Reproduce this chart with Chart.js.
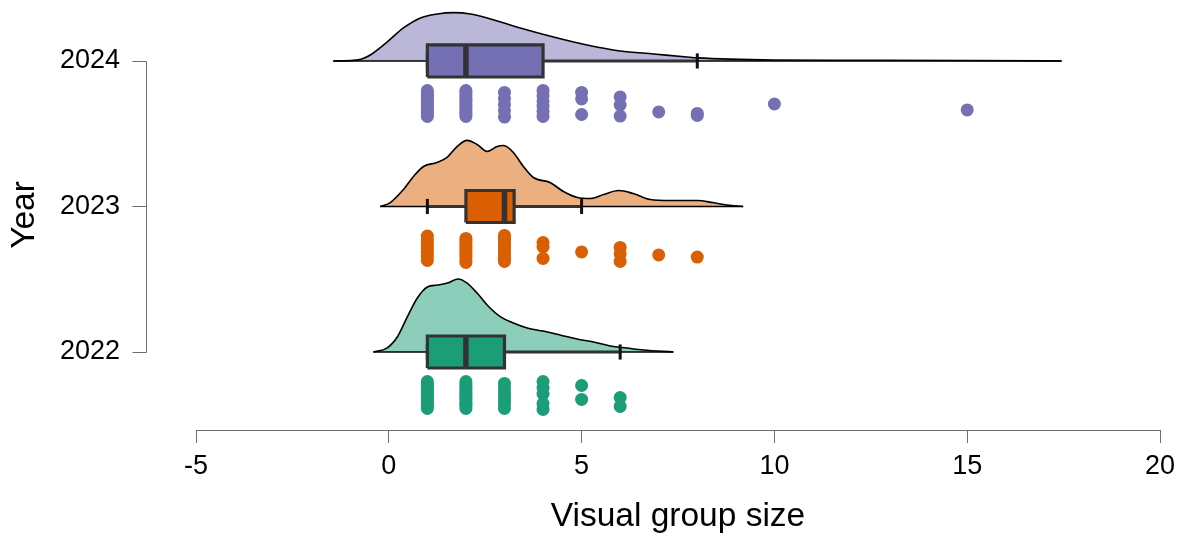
<!DOCTYPE html>
<html>
<head>
<meta charset="utf-8">
<script src="https://cdn.jsdelivr.net/npm/chart.js@4.4.1/dist/chart.umd.min.js"></script>
<style>
  html, body { margin: 0; padding: 0; background: #ffffff; }
  canvas { display: block; }
</style>
</head>
<body>
<canvas id="chart" width="1183" height="537"></canvas>
<script>
// Years on the vertical axis and their colours (bottom to top)
const years = [2022, 2023, 2024];
const palette = ['#1b9e77', '#d95f02', '#7570b3'];
const cloudFill = ['rgba(27,158,119,0.5)', 'rgba(217,95,2,0.5)', 'rgba(117,112,179,0.5)'];
const xTicks = [-5, 0, 5, 10, 15, 20];

// Box-plot summaries per year
const q1 = [1, 2, 1];
const median = [2, 3, 2];
const q3 = [3, 3.25, 4];
const whiskerLow = [1, 1, 1];
const whiskerHigh = [6, 5, 8];

// Density clouds: x positions and height above the year line (axis units)
const densX2022 = [-0.4, -0.05, 0.22, 0.48, 0.74, 1.0, 1.26, 1.52, 1.8, 2.03, 2.29, 2.55, 2.9, 3.23, 3.59, 4.0, 4.44, 4.88, 5.31, 5.74, 6.18, 6.6, 7.38];
const densH2022 = [0, 0.027, 0.103, 0.241, 0.371, 0.447, 0.46, 0.474, 0.502, 0.474, 0.405, 0.323, 0.241, 0.199, 0.165, 0.144, 0.117, 0.089, 0.069, 0.041, 0.027, 0.014, 0];

const densX2023 = [-0.22, 0.04, 0.38, 0.64, 0.9, 1.25, 1.51, 1.77, 2.03, 2.29, 2.55, 2.81, 2.98, 3.23, 3.49, 3.75, 4.18, 4.53, 4.89, 5.23, 5.57, 5.96, 6.34, 6.78, 7.3, 8.0, 8.4, 8.77, 9.19];
const densH2023 = [0, 0.027, 0.117, 0.206, 0.275, 0.302, 0.337, 0.412, 0.454, 0.426, 0.378, 0.412, 0.419, 0.371, 0.275, 0.199, 0.165, 0.103, 0.062, 0.055, 0.082, 0.11, 0.089, 0.048, 0.041, 0.041, 0.027, 0.01, 0];

const densX2024 = [-1.44, -0.92, -0.7, -0.48, -0.04, 0.38, 0.82, 1.26, 1.68, 2.12, 2.55, 3.41, 4.27, 5.14, 6.0, 6.87, 7.73, 8.0, 10, 12, 15, 17.45];
const densH2024 = [0, 0.004, 0.014, 0.041, 0.131, 0.227, 0.296, 0.323, 0.332, 0.323, 0.296, 0.227, 0.165, 0.11, 0.069, 0.048, 0.027, 0.021, 0.007, 0.005, 0.003, 0];

// Observed group sizes and their vertical jitter (in jitter units)
const obs2022 = [1,1,1,1,1,1,1,1,1,1,1,1, 2,2,2,2,2,2,2,2,2,2,2,2,2, 3,3,3,3,3,3,3, 4,4,4,4,4, 5,5, 6,6];
const jit2022 = [1.0, 0.81, 0.62, 0.43, 0.25, 0.06, -0.13, -0.32, -0.51, -0.7, -0.89, -1.08,
                 1.0, 0.83, 0.66, 0.48, 0.31, 0.14, -0.04, -0.21, -0.38, -0.56, -0.73, -0.9, -1.08,
                 0.85, 0.53, 0.2, -0.12, -0.44, -0.76, -1.08,
                 1.0, 0.5, 0.04, -0.7, -1.15,
                 0.69, -0.38,
                 -0.23, -0.92];

const obs2023 = [1,1,1,1,1,1,1, 2,2,2,2,2,2,2,2,2,2, 3,3,3,3,3,3,3,3,3,3, 4,4,4, 5, 6,6,6, 7, 8];
const jit2023 = [1.0, 0.68, 0.36, 0.06, -0.25, -0.55, -0.88,
                 0.81, 0.6, 0.4, 0.2, 0.0, -0.2, -0.42, -0.62, -0.84, -1.04,
                 1.04, 0.82, 0.6, 0.38, 0.16, -0.08, -0.3, -0.52, -0.74, -0.96,
                 0.5, 0.15, -0.73,
                 -0.23,
                 0.12, -0.38, -0.96,
                 -0.46,
                 -0.62];

const obs2024 = [1,1,1,1,1,1,1,1,1,1,1,1,1, 2,2,2,2,2,2,2,2,2,2,2,2, 3,3,3,3,3, 4,4,4,4,4,4, 5,5,5, 6,6,6, 7, 8,8, 10, 15];
const jit2024 = [0.99, 0.82, 0.65, 0.48, 0.32, 0.15, -0.02, -0.18, -0.35, -0.52, -0.68, -0.85, -1.0,
                 0.99, 0.8, 0.62, 0.44, 0.26, 0.08, -0.1, -0.28, -0.46, -0.64, -0.82, -1.0,
                 0.85, 0.38, -0.08, -0.55, -1.05,
                 1.0, 0.6, 0.2, -0.2, -0.6, -1.0,
                 0.85, 0.35, -0.85,
                 0.5, -0.12, -0.97,
                 -0.65,
                 -0.77, -0.92,
                 -0.04,
                 -0.5];

const densX = [densX2022, densX2023, densX2024];
const densH = [densH2022, densH2023, densH2024];
const obs = [obs2022, obs2023, obs2024];
const jit = [jit2022, jit2023, jit2024];

// Geometry of the raincloud pieces, in y-axis units
const BOX_HALF = 0.11;
const CAP_HALF = 0.052;
const RAIN_OFFSET = 0.292;
const JITTER_UNIT = 0.0893;

const datasets = [];
years.forEach((year, g) => {
  // cloud
  datasets.push({
    type: 'line',
    data: densX[g].map((x, i) => ({ x, y: year + densH[g][i] })),
    fill: { value: year },
    backgroundColor: cloudFill[g],
    borderColor: '#000000',
    borderWidth: 1.6,
    pointRadius: 0,
    cubicInterpolationMode: 'monotone',
    clip: false,
    order: 50
  });
  // cloud base
  datasets.push({
    type: 'line',
    data: [{ x: densX[g][0], y: year }, { x: densX[g][densX[g].length - 1], y: year }],
    borderColor: '#000000',
    borderWidth: 1.6,
    pointRadius: 0,
    clip: false,
    order: 49
  });
  // whisker
  datasets.push({
    type: 'line',
    data: [{ x: whiskerLow[g], y: year }, { x: whiskerHigh[g], y: year }],
    borderColor: '#333333',
    borderWidth: 3,
    pointRadius: 0,
    order: 40
  });
  // whisker caps
  [whiskerLow[g], whiskerHigh[g]].forEach(v => {
    datasets.push({
      type: 'line',
      data: [{ x: v, y: year - CAP_HALF }, { x: v, y: year + CAP_HALF }],
      borderColor: '#111111',
      borderWidth: 3,
      pointRadius: 0,
      order: 39
    });
  });
  // box
  datasets.push({
    type: 'line',
    data: [
      { x: q1[g], y: year - BOX_HALF }, { x: q3[g], y: year - BOX_HALF },
      { x: q3[g], y: year + BOX_HALF }, { x: q1[g], y: year + BOX_HALF },
      { x: q1[g], y: year - BOX_HALF }
    ],
    fill: 'shape',
    backgroundColor: palette[g],
    borderColor: '#333333',
    borderWidth: 3.2,
    borderJoinStyle: 'miter',
    pointRadius: 0,
    order: 30
  });
  // median
  datasets.push({
    type: 'line',
    data: [{ x: median[g], y: year - BOX_HALF }, { x: median[g], y: year + BOX_HALF }],
    borderColor: '#333333',
    borderWidth: 5.5,
    pointRadius: 0,
    order: 29
  });
  // rain
  datasets.push({
    type: 'scatter',
    data: obs[g].map((v, i) => ({ x: v, y: year - RAIN_OFFSET + jit[g][i] * JITTER_UNIT })),
    backgroundColor: palette[g],
    borderWidth: 0,
    pointRadius: 6.5,
    pointHoverRadius: 6.5,
    clip: false,
    order: 60
  });
});

// R-style detached axes: lines span only the tick range, y axis sits left of the plot
const Y_AXIS_GAP = 49;
const Y_TICK_LEN = 14;
const axisLines = {
  id: 'axisLines',
  afterDatasetsDraw(chart) {
    const { ctx, scales: { x, y }, chartArea } = chart;
    ctx.save();
    ctx.strokeStyle = '#6e6e6e';
    ctx.lineWidth = 1;
    ctx.beginPath();
    const yb = Math.round(chartArea.bottom) + 0.5;
    ctx.moveTo(x.getPixelForValue(xTicks[0]), yb);
    ctx.lineTo(x.getPixelForValue(xTicks[xTicks.length - 1]), yb);
    const xl = Math.round(chartArea.left - Y_AXIS_GAP) - 0.5;
    ctx.moveTo(xl, Math.round(y.getPixelForValue(years[0])) + 0.5);
    ctx.lineTo(xl, Math.round(y.getPixelForValue(years[years.length - 1])) + 0.5);
    years.forEach(v => {
      const py = Math.round(y.getPixelForValue(v)) + 0.5;
      ctx.moveTo(xl - Y_TICK_LEN, py);
      ctx.lineTo(xl, py);
    });
    ctx.stroke();
    ctx.restore();
  }
};

Chart.defaults.font.family = "'Liberation Sans', Arial, Helvetica, sans-serif";
Chart.defaults.color = '#000000';

new Chart(document.getElementById('chart'), {
  type: 'scatter',
  data: { datasets },
  options: {
    responsive: false,
    animation: false,
    devicePixelRatio: 1,
    events: [],
    layout: { autoPadding: false, padding: { left: 0, right: 23, top: 0, bottom: 0 } },
    plugins: { legend: { display: false }, tooltip: { enabled: false } },
    scales: {
      x: {
        type: 'linear',
        position: 'bottom',
        min: -5,
        max: 20,
        afterBuildTicks: s => { s.ticks = xTicks.map(v => ({ value: v })); },
        afterFit: s => { s.height = 107; s.paddingLeft = 0; s.paddingRight = 0; },
        border: { display: false },
        grid: { drawOnChartArea: false, drawTicks: true, tickLength: 13, color: '#6e6e6e', lineWidth: 1 },
        ticks: { font: { size: 27 }, color: '#000000', padding: 7, maxRotation: 0, autoSkip: false, callback: v => String(v) },
        title: { display: true, text: 'Visual group size', font: { size: 33.5 }, color: '#000000', padding: { top: 0, bottom: 0.5 } }
      },
      y: {
        type: 'linear',
        position: 'left',
        min: 2021.464,
        max: 2024.419,
        afterBuildTicks: s => { s.ticks = years.map(v => ({ value: v })); },
        afterFit: s => { s.width = 196; s.paddingTop = 0; s.paddingBottom = 0; },
        border: { display: false },
        grid: { display: false, drawTicks: false },
        ticks: { font: { size: 27 }, color: '#000000', padding: 76, autoSkip: false, callback: v => String(v) },
        title: { display: true, text: 'Year', font: { size: 33.5 }, color: '#000000', padding: { top: 5, bottom: 0 } }
      }
    }
  },
  plugins: [axisLines]
});
</script>
</body>
</html>
